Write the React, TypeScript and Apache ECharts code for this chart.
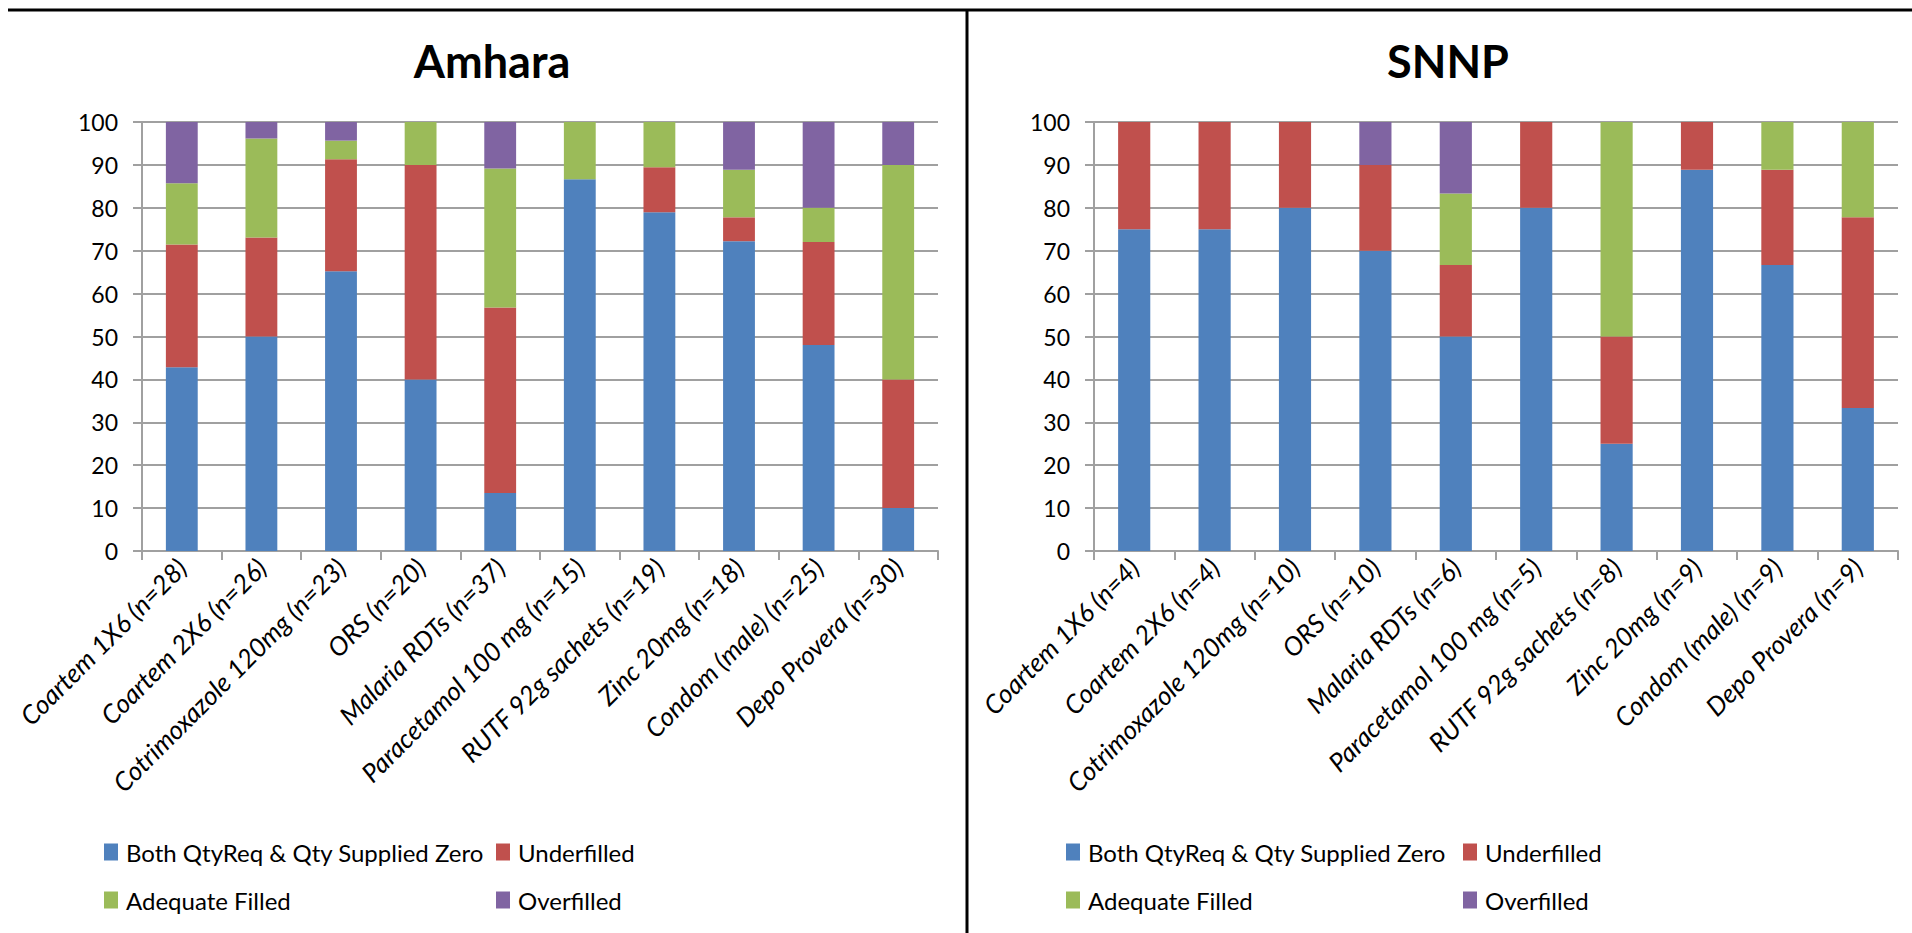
import React, { useEffect, useRef } from "react";
import * as echarts from "echarts";

const categoriesAmhara = [
  "Coartem 1X6 (n=28)",
  "Coartem 2X6 (n=26)",
  "Cotrimoxazole 120mg (n=23)",
  "ORS (n=20)",
  "Malaria RDTs (n=37)",
  "Paracetamol 100 mg (n=15)",
  "RUTF 92g sachets (n=19)",
  "Zinc 20mg (n=18)",
  "Condom (male) (n=25)",
  "Depo Provera (n=30)",
];
const categoriesSNNP = [
  "Coartem 1X6 (n=4)",
  "Coartem 2X6 (n=4)",
  "Cotrimoxazole 120mg (n=10)",
  "ORS (n=10)",
  "Malaria RDTs (n=6)",
  "Paracetamol 100 mg (n=5)",
  "RUTF 92g sachets (n=8)",
  "Zinc 20mg (n=9)",
  "Condom (male) (n=9)",
  "Depo Provera (n=9)",
];

const seriesNames = [
  "Both QtyReq & Qty Supplied Zero",
  "Underfilled",
  "Adequate Filled",
  "Overfilled",
];

const amharaBoth = [42.86, 50.0, 65.22, 40, 13.51, 86.67, 78.95, 72.22, 48, 10];
const amharaUnder = [28.57, 23.08, 26.09, 50, 43.24, 0, 10.53, 5.56, 24, 30];
const amharaAdequate = [14.29, 23.08, 4.35, 10, 32.43, 13.33, 10.52, 11.11, 8, 50];
const amharaOver = [14.28, 3.84, 4.34, 0, 10.82, 0, 0, 11.11, 20, 10];

const snnpBoth = [75, 75, 80, 70, 50, 80, 25, 88.89, 66.67, 33.33];
const snnpUnder = [25, 25, 20, 20, 16.67, 20, 25, 11.11, 22.22, 44.45];
const snnpAdequate = [0, 0, 0, 0, 16.67, 0, 50, 0, 11.11, 22.22];
const snnpOver = [0, 0, 0, 10, 16.66, 0, 0, 0, 0, 0];

const yTicks = { min: 0, max: 100, interval: 10 };

const colors = ["#4F81BD", "#C0504D", "#9BBB59", "#8064A2"];

const FONT = "Lato";
const GRID_COLOR = "#a0a0a0";

function makeXAxis(gridIndex: number, data: string[]) {
  return {
    type: "category",
    gridIndex,
    data,
    axisLine: { show: true, lineStyle: { color: GRID_COLOR, width: 2 } },
    axisTick: { show: true, length: 9, lineStyle: { color: GRID_COLOR, width: 2 } },
    axisLabel: {
      interval: 0,
      rotate: 45,
      margin: 12,
      color: "#000",
      fontFamily: FONT,
      fontStyle: "italic",
      fontSize: 26,
    },
  };
}

function makeYAxis(gridIndex: number) {
  return {
    type: "value",
    gridIndex,
    min: yTicks.min,
    max: yTicks.max,
    interval: yTicks.interval,
    axisLine: { show: true, lineStyle: { color: GRID_COLOR, width: 2 } },
    axisTick: { show: true, length: 9, lineStyle: { color: GRID_COLOR, width: 2 } },
    splitLine: { show: true, lineStyle: { color: GRID_COLOR, width: 2 } },
    axisLabel: {
      margin: 24,
      color: "#000",
      fontFamily: FONT,
      fontSize: 23,
    },
  };
}

function makeSeries(idx: number, stack: string, lists: number[][]) {
  return lists.map((d, i) => ({
    name: seriesNames[i],
    type: "bar",
    stack,
    xAxisIndex: idx,
    yAxisIndex: idx,
    barWidth: "40%",
    itemStyle: { color: colors[i] },
    data: d,
  }));
}

function makeLegends(baseLeft: number, colLeft: number) {
  const pos = [
    [baseLeft, 840],
    [colLeft, 840],
    [baseLeft, 888],
    [colLeft, 888],
  ];
  return seriesNames.map((n, i) => ({
    data: [n],
    left: pos[i][0],
    top: pos[i][1],
    padding: 0,
    itemWidth: 14,
    itemHeight: 17,
    icon: "rect",
    selectedMode: false,
    textStyle: {
      fontFamily: FONT,
      fontSize: 24,
      color: "#000",
      padding: [0, 0, 0, 3],
    },
  }));
}

export default function App() {
  const ref = useRef<HTMLDivElement>(null);

  useEffect(() => {
    if (!ref.current) return;
    const chart = echarts.init(ref.current, null, { renderer: "svg" });
    const option = {
      animation: false,
      backgroundColor: "#fff",
      color: colors,
      title: [
        {
          text: "Amhara",
          left: 487,
          top: 33,
          textAlign: "center",
          textStyle: { fontFamily: FONT, fontWeight: "bold", fontSize: 45, color: "#000" },
        },
        {
          text: "SNNP",
          left: 1443,
          top: 33,
          textAlign: "center",
          textStyle: { fontFamily: FONT, fontWeight: "bold", fontSize: 45, color: "#000" },
        },
      ],
      legend: [...makeLegends(104, 496), ...makeLegends(1066, 1463)],
      grid: [
        { left: 142, right: 1912 - 938, top: 122, bottom: 933 - 551, containLabel: false },
        { left: 1094, right: 1912 - 1898, top: 122, bottom: 933 - 551, containLabel: false },
      ],
      xAxis: [makeXAxis(0, categoriesAmhara), makeXAxis(1, categoriesSNNP)],
      yAxis: [makeYAxis(0), makeYAxis(1)],
      series: [
        ...makeSeries(0, "amhara", [amharaBoth, amharaUnder, amharaAdequate, amharaOver]),
        ...makeSeries(1, "snnp", [snnpBoth, snnpUnder, snnpAdequate, snnpOver]),
      ],
      graphic: [
        {
          type: "line",
          shape: { x1: 8, y1: 10, x2: 1912, y2: 10 },
          style: { stroke: "#000", lineWidth: 3 },
        },
        {
          type: "line",
          shape: { x1: 967, y1: 10, x2: 967, y2: 933 },
          style: { stroke: "#000", lineWidth: 3 },
        },
      ],
    };
    chart.setOption(option as any);
    return () => chart.dispose();
  }, []);

  return (
    <div
      ref={ref}
      style={{ position: "fixed", left: 0, top: 0, width: 1912, height: 933 }}
    />
  );
}
